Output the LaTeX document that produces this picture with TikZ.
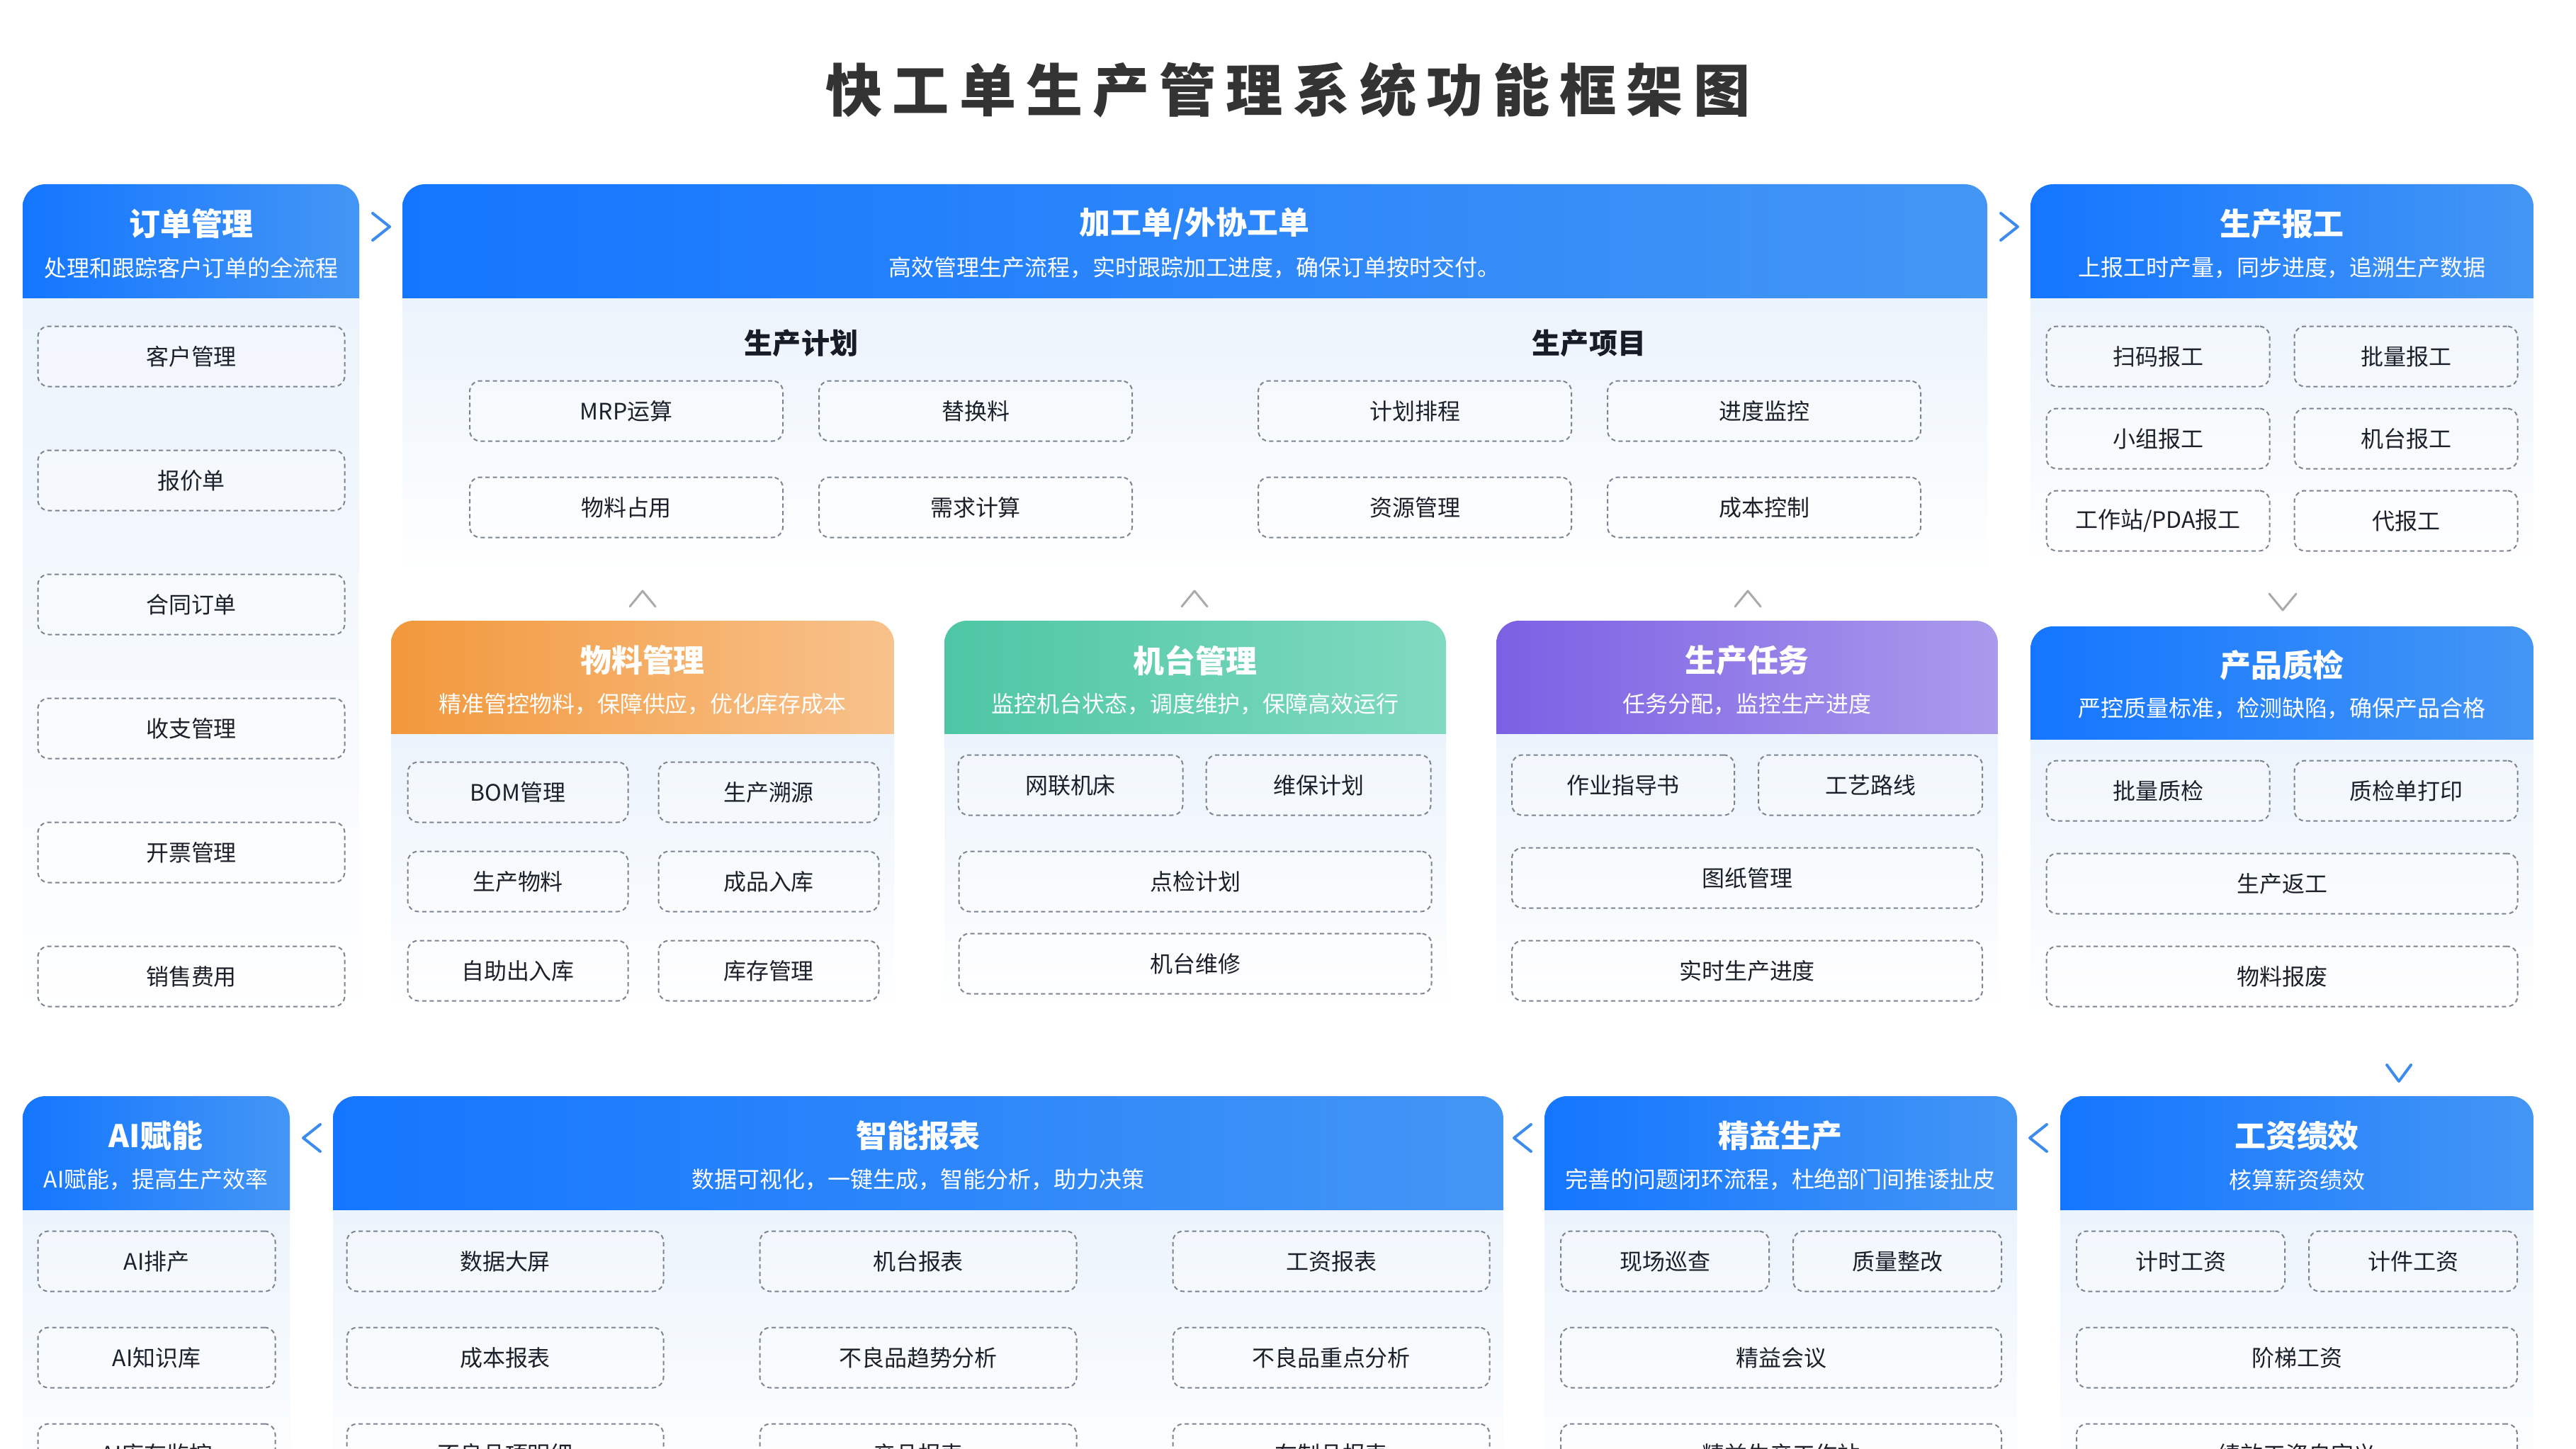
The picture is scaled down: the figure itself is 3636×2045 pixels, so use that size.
\documentclass[tikz,border=0pt]{standalone}
\usepackage{fontspec}
\setmainfont{Noto Sans CJK SC}
\definecolor{blueL}{RGB}{20,118,255}
\definecolor{blueR}{RGB}{68,150,245}
\definecolor{orangeL}{RGB}{242,152,60}
\definecolor{orangeR}{RGB}{248,194,140}
\definecolor{greenL}{RGB}{78,198,165}
\definecolor{greenR}{RGB}{128,218,192}
\definecolor{purpleL}{RGB}{124,96,228}
\definecolor{purpleR}{RGB}{170,154,236}
\definecolor{bodytop}{RGB}{235,243,252}
\definecolor{boxline}{RGB}{125,132,145}
\definecolor{boxtext}{RGB}{28,32,42}
\definecolor{headtext}{RGB}{25,28,38}
\definecolor{titletext}{RGB}{51,51,51}
\definecolor{chevblue}{RGB}{60,140,240}
\definecolor{chevgrey}{RGB}{170,170,170}
\newcommand\tgap{\hspace{4pt}}
\newcommand\panelbg[7]{%
  \shade[top color=bodytop, bottom color=white] (#1,#4) rectangle (#2,#5);
  \begin{scope}
    \clip (#1,#3) rectangle (#2,#4);
    \shade[left color=#6, right color=#7, rounded corners=3.2mm] (#1,#3) rectangle (#2,{#4+60});
  \end{scope}}
\newcommand\pbox[5]{\node[itembox, minimum width=#4*0.1mm] (#1) at (#2,#3) {#5};}
\tikzset{
  ptitle/.style={text=white, font=\bfseries\fontsize{12.5}{14}\selectfont, inner sep=0pt},
  psub/.style={text=white, font=\fontsize{9.1}{11}\selectfont, inner sep=0pt},
  itembox/.style={draw=boxline, line width=0.2mm, dash pattern=on 0.6mm off 0.45mm,
    rounded corners=1.5mm, fill=white, fill opacity=0.35, text opacity=1, text=boxtext,
    font=\fontsize{9.1}{11}\selectfont, minimum height=8.5mm, inner sep=0pt},
  sechead/.style={text=headtext, font=\bfseries\fontsize{11.4}{13}\selectfont, inner sep=0pt},
  chevb/.style={draw=chevblue, line width=0.4mm, line cap=round, line join=round},
  chevg/.style={draw=chevgrey, line width=0.3mm, line cap=round, line join=round},
}
\begin{document}
\begin{tikzpicture}[x=0.1mm, y=-0.1mm]
\useasboundingbox (0,0) rectangle (3636,2045);
\clip (0,0) rectangle (3636,2045);
\fill[white] (0,0) rectangle (3636,2045);

% title
\node[text=titletext, font=\bfseries\fontsize{22.8}{26}\selectfont, inner sep=0pt] (title) at (1818,127)
  {快\tgap 工\tgap 单\tgap 生\tgap 产\tgap 管\tgap 理\tgap 系\tgap 统\tgap 功\tgap 能\tgap 框\tgap 架\tgap 图};

% ---------- Panel A: 订单管理
\panelbg{32}{507}{260}{420}{1445}{blueL}{blueR}
\node[ptitle] (a-t) at (270,316) {订单管理};
\node[psub] (a-s) at (270,378) {处理和跟踪客户订单的全流程};
\pbox{a1}{270}{503}{433}{客户管理}
\pbox{a2}{270}{678}{433}{报价单}
\pbox{a3}{270}{853}{433}{合同订单}
\pbox{a4}{270}{1028}{433}{收支管理}
\pbox{a5}{270}{1203}{433}{开票管理}
\pbox{a6}{270}{1378}{433}{销售费用}

% ---------- Panel B: 加工单/外协工单
\panelbg{568}{2805}{260}{420}{810}{blueL}{blueR}
\node[ptitle] (b-t) at (1686,316) {加工单/外协工单};
\node[psub] (b-s) at (1686,378) {高效管理生产流程，实时跟踪加工进度，确保订单按时交付。};
\node[sechead] (b-h1) at (1131,484) {生产计划};
\node[sechead] (b-h2) at (2243,484) {生产项目};
\pbox{b1}{884}{580}{442}{MRP运算}
\pbox{b2}{1377}{580}{442}{替换料}
\pbox{b3}{884}{716}{442}{物料占用}
\pbox{b4}{1377}{716}{442}{需求计算}
\pbox{b5}{1997}{580}{442}{计划排程}
\pbox{b6}{2490}{580}{442}{进度监控}
\pbox{b7}{1997}{716}{442}{资源管理}
\pbox{b8}{2490}{716}{442}{成本控制}

% ---------- Panel C: 生产报工
\panelbg{2866}{3576}{260}{420}{800}{blueL}{blueR}
\node[ptitle] (c-t) at (3221,316) {生产报工};
\node[psub] (c-s) at (3221,378) {上报工时产量，同步进度，追溯生产数据};
\pbox{c1}{3046}{503}{315}{扫码报工}
\pbox{c2}{3396}{503}{315}{批量报工}
\pbox{c3}{3046}{619}{315}{小组报工}
\pbox{c4}{3396}{619}{315}{机台报工}
\pbox{c5}{3046}{735}{315}{工作站/PDA报工}
\pbox{c6}{3396}{735}{315}{代报工}

% ---------- Panel D: 物料管理
\panelbg{552}{1262}{876}{1035}{1430}{orangeL}{orangeR}
\node[ptitle] (d-t) at (907,932) {物料管理};
\node[psub] (d-s) at (907,994) {精准管控物料，保障供应，优化库存成本};
\pbox{d1}{731}{1118}{311}{BOM管理}
\pbox{d2}{1085}{1118}{311}{生产溯源}
\pbox{d3}{731}{1244}{311}{生产物料}
\pbox{d4}{1085}{1244}{311}{成品入库}
\pbox{d5}{731}{1370}{311}{自助出入库}
\pbox{d6}{1085}{1370}{311}{库存管理}

% ---------- Panel E: 机台管理
\panelbg{1333}{2041}{876}{1035}{1430}{greenL}{greenR}
\node[ptitle] (e-t) at (1687,932) {机台管理};
\node[psub] (e-s) at (1687,994) {监控机台状态，调度维护，保障高效运行};
\pbox{e1}{1511}{1108}{317}{网联机床}
\pbox{e2}{1861}{1108}{317}{维保计划}
\pbox{e3}{1687}{1244}{667}{点检计划}
\pbox{e4}{1687}{1360}{667}{机台维修}

% ---------- Panel F: 生产任务
\panelbg{2112}{2820}{876}{1035}{1430}{purpleL}{purpleR}
\node[ptitle] (f-t) at (2466,932) {生产任务};
\node[psub] (f-s) at (2466,994) {任务分配，监控生产进度};
\pbox{f1}{2291}{1108}{314}{作业指导书}
\pbox{f2}{2640}{1108}{316}{工艺路线}
\pbox{f3}{2466}{1239}{664}{图纸管理}
\pbox{f4}{2466}{1370}{664}{实时生产进度}

% ---------- Panel G: 产品质检
\panelbg{2866}{3576}{884}{1043}{1440}{blueL}{blueR}
\node[ptitle] (g-t) at (3221,939) {产品质检};
\node[psub] (g-s) at (3221,1000) {严控质量标准，检测缺陷，确保产品合格};
\pbox{g1}{3046}{1116}{315}{批量质检}
\pbox{g2}{3396}{1116}{315}{质检单打印}
\pbox{g3}{3221}{1247}{665}{生产返工}
\pbox{g4}{3221}{1378}{665}{物料报废}

% ---------- Panel H: AI赋能
\panelbg{32}{409}{1547}{1707}{2110}{blueL}{blueR}
\node[ptitle] (h-t) at (220,1603) {AI赋能};
\node[psub] (h-s) at (220,1665) {AI赋能，提高生产效率};
\pbox{h1}{221}{1780}{335}{AI排产}
\pbox{h2}{221}{1916}{335}{AI知识库}
\pbox{h3}{221}{2052}{335}{AI库存监控}

% ---------- Panel I: 智能报表
\panelbg{470}{2122}{1547}{1707}{2110}{blueL}{blueR}
\node[ptitle] (i-t) at (1296,1603) {智能报表};
\node[psub] (i-s) at (1296,1665) {数据可视化，一键生成，智能分析，助力决策};
\pbox{i1}{713}{1780}{447}{数据大屏}
\pbox{i2}{1296}{1780}{447}{机台报表}
\pbox{i3}{1879}{1780}{447}{工资报表}
\pbox{i4}{713}{1916}{447}{成本报表}
\pbox{i5}{1296}{1916}{447}{不良品趋势分析}
\pbox{i6}{1879}{1916}{447}{不良品重点分析}
\pbox{i7}{713}{2052}{447}{不良品项明细}
\pbox{i8}{1296}{2052}{447}{产品报表}
\pbox{i9}{1879}{2052}{447}{在制品报表}

% ---------- Panel J: 精益生产
\panelbg{2180}{2847}{1547}{1707}{2110}{blueL}{blueR}
\node[ptitle] (j-t) at (2513,1603) {精益生产};
\node[psub] (j-s) at (2513,1665) {完善的问题闭环流程，杜绝部门间推诿扯皮};
\pbox{j1}{2350}{1780}{294}{现场巡查}
\pbox{j2}{2678}{1780}{294}{质量整改}
\pbox{j3}{2514}{1916}{622}{精益会议}
\pbox{j4}{2514}{2052}{622}{精益生产工作站}

% ---------- Panel K: 工资绩效
\panelbg{2908}{3576}{1547}{1707}{2110}{blueL}{blueR}
\node[ptitle] (k-t) at (3242,1603) {工资绩效};
\node[psub] (k-s) at (3242,1665) {核算薪资绩效};
\pbox{k1}{3078}{1780}{294}{计时工资}
\pbox{k2}{3406}{1780}{294}{计件工资}
\pbox{k3}{3242}{1916}{622}{阶梯工资}
\pbox{k4}{3242}{2052}{622}{绩效工资自定义}

% ---------- chevrons
\draw[chevb] (526,301) -- (550,320) -- (526,339);
\draw[chevb] (2824,301) -- (2848,320) -- (2824,339);
\draw[chevb] (452,1587) -- (428,1606) -- (452,1625);
\draw[chevb] (2161,1587) -- (2137,1606) -- (2161,1625);
\draw[chevb] (2889,1587) -- (2865,1606) -- (2889,1625);
\draw[chevb] (3369,1503) -- (3386,1526) -- (3403,1503);
\draw[chevg] (889,856) -- (907,834) -- (925,856);
\draw[chevg] (1668,856) -- (1686,834) -- (1704,856);
\draw[chevg] (2449,856) -- (2467,834) -- (2485,856);
\draw[chevg] (3203,838) -- (3222,861) -- (3241,838);
\end{tikzpicture}
\end{document}
